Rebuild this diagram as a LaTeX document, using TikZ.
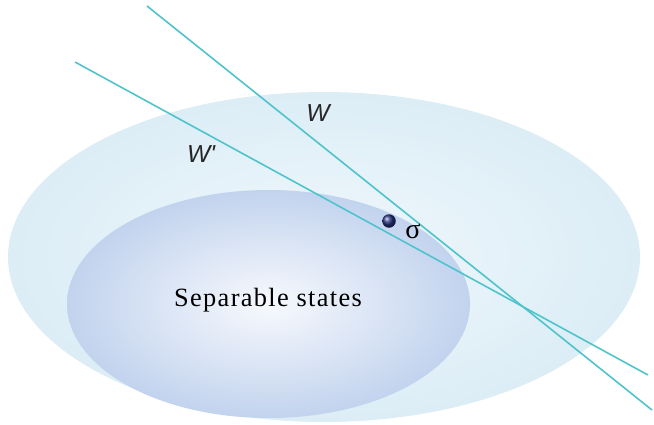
\documentclass[tikz,border=0pt]{standalone}
\usepackage{fontspec}
\setmainfont{Liberation Serif}
\newfontfamily\labelfont{Liberation Sans}
\usetikzlibrary{shapes.geometric, positioning}
\definecolor{witnessteal}{HTML}{4EC3CC}
\definecolor{outerblue}{HTML}{DCEDF6}
\definecolor{outerlight}{HTML}{F0F8FC}
\definecolor{innerblue}{HTML}{C2D3EE}
\definecolor{innerlight}{HTML}{F7F9FD}
\definecolor{statenavy}{HTML}{2A3580}

\begin{document}
\begin{tikzpicture}[
  region/.style={ellipse, inner sep=0pt, draw=none},
  witness/.style={draw=witnessteal, line width=0.9pt},
  wlabel/.style={font=\labelfont\itshape\fontsize{14}{16}\selectfont, text=black!85}]
  \useasboundingbox (0,0) rectangle (13.08,8.48);
  \node[region, minimum width=12.64cm, minimum height=6.6cm,
    shading=radial, inner color=outerlight, outer color=outerblue] (outer) at (6.48,3.34) {};
  \node[region, minimum width=8.06cm, minimum height=4.56cm,
    shading=radial, inner color=innerlight, outer color=innerblue] (inner) at (5.37,2.40) {};
  \node[font=\fontsize{15}{18}\selectfont\addfontfeature{LetterSpace=5}] (sep) at (5.36,2.48) {Separable states};
  % witness hyperplanes
  \coordinate (w1) at (2.94,8.36);
  \coordinate (w2) at (13.04,0.28);
  \coordinate (v1) at (1.50,7.24);
  \coordinate (v2) at (12.96,0.98);
  \draw[witness] (w1) -- (w2);
  \draw[witness] (v1) -- (v2);
  \node[wlabel] (wl) at (6.36,6.22) {W};
  \node[wlabel] (vl) at (4.02,5.40) {W'};
  % the state
  \node[circle, inner sep=0pt, minimum size=0.27cm, shading=ball, ball color=statenavy] (state) at (7.78,4.06) {};
  \node[font=\fontsize{16}{18}\selectfont, right=0.06cm of state, yshift=-0.2cm] (sigma) {σ};
\end{tikzpicture}
\end{document}
